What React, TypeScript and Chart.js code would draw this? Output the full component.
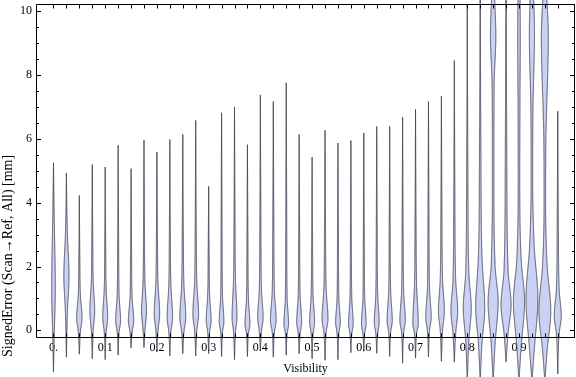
import React, { useEffect, useRef } from "react";
import { Chart, registerables } from "chart.js";
Chart.register(...registerables);

// Visibility bins (x categories)
const visibility = [
  0, 0.025, 0.05, 0.075, 0.1, 0.125, 0.15, 0.175, 0.2, 0.225,
  0.25, 0.275, 0.3, 0.325, 0.35, 0.375, 0.4, 0.425, 0.45, 0.475,
  0.5, 0.525, 0.55, 0.575, 0.6, 0.625, 0.65, 0.675, 0.7, 0.725,
  0.75, 0.775, 0.8, 0.825, 0.85, 0.875, 0.9, 0.925, 0.95, 0.975,
];
// Minimum signed error per bin [mm]
const errMin = [
  -1.31, -0.84, -0.75, -0.89, -0.92, -0.78, -0.55, -0.54, -0.68, -0.8,
  -0.73, -0.8, -0.73, -0.82, -0.92, -0.82, -0.63, -0.84, -0.78, -0.73,
  -0.89, -0.94, -0.92, -0.7, -0.66, -0.72, -0.82, -1.03, -0.87, -0.83,
  -0.97, -1.0, -1.6, -1.6, -1.6, -0.99, -1.6, -1.6, -1.6, -1.36,
];
// Maximum signed error per bin [mm]
const errMax = [
  5.25, 4.93, 4.23, 5.2, 5.12, 5.8, 5.07, 5.96, 5.59, 5.98,
  6.14, 6.58, 4.51, 6.82, 7.0, 5.82, 7.38, 7.17, 7.76, 6.14,
  5.43, 6.27, 5.87, 5.95, 6.19, 6.39, 6.39, 6.68, 6.93, 7.17,
  7.34, 8.46, 10.2, 12, 12, 12, 12, 12, 12, 6.87,
];
// Mode (densest value) per bin
const modeAt = [
  1.3, 1.7, 0.4, 0.6, 0.4, 0.3, 0.3, 0.6, 0.5, 0.4,
  0.4, 0.5, 0.3, 0.27, 0.4, 0.2, 0.4, 0.3, 0.2, 0.25,
  0.25, 0.35, 0.25, 0.2, 0.2, 0.25, 0.3, 0.3, 0.2, 0.4,
  0.6, 0.6, 0.7, 0.7, 0.9, 0.8, 0.9, 1.0, 0.6, 0.45,
];
// Relative density at the mode (half-width as a share of the bin spacing)
const modeDensity = [
  0.14, 0.2, 0.21, 0.19, 0.19, 0.19, 0.21, 0.19, 0.21, 0.21,
  0.23, 0.22, 0.19, 0.18, 0.19, 0.19, 0.21, 0.22, 0.18, 0.19,
  0.19, 0.23, 0.18, 0.18, 0.18, 0.19, 0.2, 0.21, 0.21, 0.21,
  0.23, 0.26, 0.31, 0.35, 0.39, 0.39, 0.43, 0.46, 0.46, 0.27,
];
// Lower / upper edge of the dense body of each distribution
const bodyLow = [
  -0.2, 0.6, -0.05, 0.0, -0.05, -0.05, -0.05, 0.0, 0.0, -0.05,
  -0.05, 0.0, -0.05, -0.05, -0.05, -0.1, -0.05, -0.05, -0.1, -0.1,
  -0.1, -0.05, -0.1, -0.1, -0.1, -0.1, -0.05, -0.05, -0.1, 0.0,
  0.0, -0.1, -0.3, -0.4, -0.4, -0.1, -0.5, -0.6, -0.6, -0.1,
];
const bodyHigh = [
  3.6, 3.0, 1.1, 1.5, 1.3, 1.1, 1.0, 1.5, 1.5, 1.4,
  1.4, 1.5, 1.1, 1.1, 1.6, 1.0, 1.3, 1.2, 1.0, 1.1,
  1.1, 1.3, 1.0, 1.0, 1.0, 1.1, 1.2, 1.2, 1.4, 1.3,
  1.6, 1.6, 1.8, 2.3, 2.0, 1.9, 2.2, 2.6, 2.0, 1.3,
];
// Secondary (upper) modes
const lobeIndex = [34, 36, 37, 38];
const lobeCenter = [9.2, 9.0, 9.3, 9.2];
const lobeDensity = [0.21, 0.1, 0.2, 0.27];
const lobeLow = [7.7, 7.5, 6.9, 6.0];
const lobeHigh = [10.8, 10.5, 11.0, 11.0];

const xTickValues = [0, 0.1, 0.2, 0.3, 0.4, 0.5, 0.6, 0.7, 0.8, 0.9];
const xTickLabels = ["0.", "0.1", "0.2", "0.3", "0.4", "0.5", "0.6", "0.7", "0.8", "0.9"];
const yTickValues = [0, 2, 4, 6, 8, 10];
const yMinorStep = 0.5;
const yTitle = "SignedError (Scan\u2192Ref, All) [mm]";

const X_MIN = -0.0338;
const X_MAX = 1.0083;
const Y_MIN = -0.21;
const Y_MAX = 10.23;

const SERIF = "'Liberation Serif', 'Times New Roman', serif";
const FONT = { family: SERIF, size: 12 };

function monotone(xs: number[], ys: number[]) {
  const n = xs.length;
  const d: number[] = [];
  const m: number[] = [];
  for (let i = 0; i < n - 1; i++) d[i] = (ys[i + 1] - ys[i]) / (xs[i + 1] - xs[i]);
  m[0] = d[0];
  m[n - 1] = d[n - 2];
  for (let i = 1; i < n - 1; i++) m[i] = d[i - 1] * d[i] <= 0 ? 0 : (d[i - 1] + d[i]) / 2;
  for (let i = 0; i < n - 1; i++) {
    if (d[i] === 0) { m[i] = 0; m[i + 1] = 0; continue; }
    const a = m[i] / d[i];
    const b = m[i + 1] / d[i];
    const s = a * a + b * b;
    if (s > 9) {
      const t = 3 / Math.sqrt(s);
      m[i] = t * a * d[i];
      m[i + 1] = t * b * d[i];
    }
  }
  return (x: number) => {
    if (x <= xs[0]) return ys[0];
    if (x >= xs[n - 1]) return ys[n - 1];
    let i = 0;
    while (i < n - 2 && x > xs[i + 1]) i++;
    const h = xs[i + 1] - xs[i];
    const t = (x - xs[i]) / h;
    const t2 = t * t, t3 = t2 * t;
    return (2 * t3 - 3 * t2 + 1) * ys[i] + (t3 - 2 * t2 + t) * h * m[i] +
      (-2 * t3 + 3 * t2) * ys[i + 1] + (t3 - t2) * h * m[i + 1];
  };
}

function profileKnots(i: number): [number[], number[]] {
  const lo = errMin[i], hi = errMax[i];
  const W = modeDensity[i];
  const ks: [number, number][] = [
    [lo, 0],
    [bodyLow[i], 0.4 * W],
    [modeAt[i], W],
    [bodyHigh[i], 0.4 * W],
  ];
  const li = lobeIndex.indexOf(i);
  if (li >= 0) {
    ks.push([(bodyHigh[i] + lobeLow[li]) / 2, 0.06]);
    ks.push([lobeLow[li], 0.08]);
    ks.push([lobeCenter[li], lobeDensity[li]]);
    ks.push([lobeHigh[li], 0.08]);
  } else {
    ks.push([bodyHigh[i] + 0.35 * (hi - bodyHigh[i]), 0.1 * W + 0.02]);
  }
  ks.push([hi, 0]);
  return [ks.map((k) => k[0]), ks.map((k) => k[1])];
}

const violinPlugin = {
  id: "violins",
  afterDraw(chart: any) {
    const { ctx, chartArea } = chart;
    const xs = chart.scales.x;
    const ys = chart.scales.y;
    const spacing = Math.abs(xs.getPixelForValue(visibility[1]) - xs.getPixelForValue(visibility[0]));
    ctx.save();
    for (let i = 0; i < visibility.length; i++) {
      const [kx, ky] = profileKnots(i);
      const f = monotone(kx, ky);
      const cx = xs.getPixelForValue(visibility[i]);
      const pTop = ys.getPixelForValue(errMax[i]);
      const pBot = ys.getPixelForValue(errMin[i]);
      const right: [number, number][] = [];
      for (let py = pBot; py >= pTop; py -= 0.5) {
        const v = ys.getValueForPixel(py);
        const w = Math.max(0, f(v)) * spacing;
        right.push([cx + w, py]);
      }
      right.push([cx + Math.max(0, f(errMax[i])) * spacing, pTop]);
      ctx.beginPath();
      right.forEach(([x, y], j) => (j === 0 ? ctx.moveTo(x, y) : ctx.lineTo(x, y)));
      for (let j = right.length - 1; j >= 0; j--) {
        const [x, y] = right[j];
        ctx.lineTo(2 * cx - x, y);
      }
      ctx.closePath();
      ctx.fillStyle = "rgb(203, 208, 245)";
      ctx.fill();
      ctx.lineWidth = 1;
      ctx.strokeStyle = "rgba(45, 45, 58, 0.78)";
      ctx.stroke();
    }

    // frame
    const L = chartArea.left + 0.5, R = chartArea.right - 0.5;
    const T = chartArea.top + 0.5, B = chartArea.bottom + 0.5;
    ctx.strokeStyle = "#000";
    ctx.lineWidth = 1;
    ctx.beginPath();
    ctx.moveTo(L, T); ctx.lineTo(R + 0.5, T);
    ctx.moveTo(L, B); ctx.lineTo(R + 0.5, B);
    ctx.moveTo(L, T); ctx.lineTo(L, B);
    ctx.moveTo(R, T); ctx.lineTo(R, B);
    // y ticks (left & right, inward)
    for (let v = 0; v <= Y_MAX + 1e-9; v += yMinorStep) {
      const major = yTickValues.some((t) => Math.abs(t - v) < 1e-6);
      const len = major ? 4.5 : 2.5;
      const py = Math.round(ys.getPixelForValue(v)) + 0.5;
      ctx.moveTo(L, py); ctx.lineTo(L + len, py);
      ctx.moveTo(R, py); ctx.lineTo(R - len, py);
    }
    // x ticks (top & bottom, inward) at each bin
    for (let i = 0; i < visibility.length; i++) {
      const px = Math.round(xs.getPixelForValue(visibility[i])) + 0.5;
      ctx.moveTo(px, T); ctx.lineTo(px, T + 4);
      ctx.moveTo(px, B); ctx.lineTo(px, B - 4);
    }
    ctx.stroke();

    // y-axis title (vertical, reading upwards)
    ctx.save();
    ctx.translate(8.5, 357);
    ctx.rotate(-Math.PI / 2);
    ctx.font = `14px ${SERIF}`;
    ctx.fillStyle = "#000";
    ctx.textAlign = "left";
    ctx.textBaseline = "middle";
    ctx.fillText(yTitle, 0, 0);
    ctx.restore();

    ctx.restore();
  },
};

export default function App() {
  const ref = useRef<HTMLCanvasElement>(null);
  useEffect(() => {
    document.body.style.margin = "0";
    const canvas = ref.current!;
    const chart = new Chart(canvas, {
      type: "scatter",
      data: {
        datasets: [
          {
            data: visibility.map((v, i) => ({ x: v, y: errMax[i] })),
            pointRadius: 0,
            showLine: false,
          },
        ],
      },
      options: {
        animation: false,
        responsive: false,
        events: [],
        layout: { padding: { top: 4, right: 1, left: 0, bottom: 0 } },
        plugins: { legend: { display: false }, tooltip: { enabled: false } },
        scales: {
          x: {
            type: "linear",
            min: X_MIN,
            max: X_MAX,
            afterBuildTicks: (s: any) => {
              s.ticks = xTickValues.map((v) => ({ value: v }));
            },
            afterFit: (s: any) => {
              s.height = 40;
              s.paddingLeft = 0; s.paddingRight = 0; s.paddingTop = 0; s.paddingBottom = 0;
            },
            grid: { display: false, drawTicks: false },
            border: { display: false },
            ticks: {
              padding: 4,
              color: "#000",
              font: FONT,
              maxRotation: 0,
              autoSkip: false,
              callback: (_v: any, i: number) => xTickLabels[i],
            },
            title: {
              display: true,
              text: "Visibility",
              color: "#000",
              font: FONT,
              padding: { top: 0, bottom: 1 },
            },
          },
          y: {
            type: "linear",
            min: Y_MIN,
            max: Y_MAX,
            afterBuildTicks: (s: any) => {
              s.ticks = yTickValues.map((v) => ({ value: v }));
            },
            afterFit: (s: any) => {
              s.width = 36;
              s.paddingLeft = 0; s.paddingRight = 0; s.paddingTop = 0; s.paddingBottom = 0;
            },
            grid: { display: false, drawTicks: false },
            border: { display: false },
            ticks: {
              padding: 4,
              color: "#000",
              font: FONT,
              callback: (v: any) => String(v),
            },
            title: { display: false },
          },
        },
      },
      plugins: [violinPlugin],
    } as any);
    return () => chart.destroy();
  }, []);
  return (
    <div style={{ position: "fixed", left: 0, top: 0, width: 576, height: 377 }}>
      <canvas ref={ref} width={576} height={377} style={{ display: "block" }} />
    </div>
  );
}
